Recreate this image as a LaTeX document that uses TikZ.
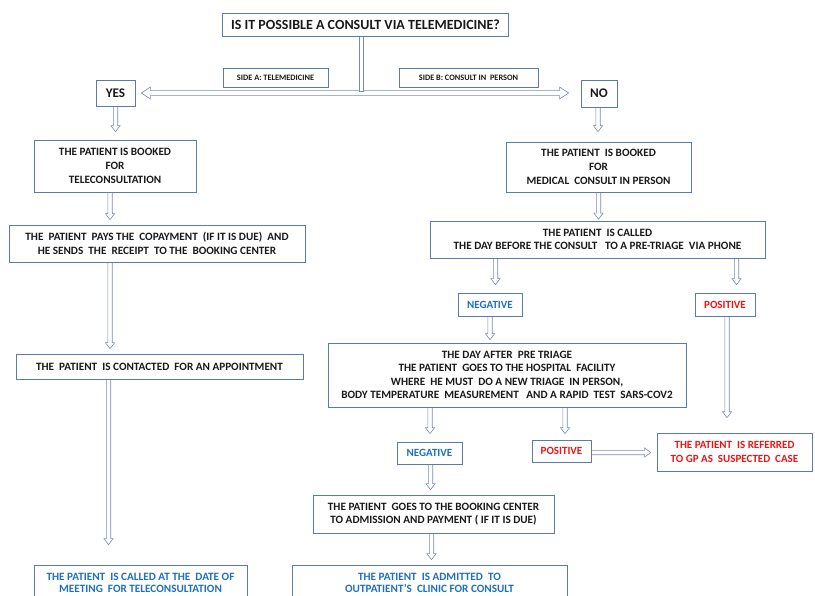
\documentclass[tikz,border=0pt]{standalone}
\usepackage{fontspec}
\setmainfont{Carlito}
\usetikzlibrary{calc}
\pgfdeclarelayer{bg}
\pgfsetlayers{bg,main}
\definecolor{boxC}{RGB}{92,122,170}
\definecolor{arrC}{RGB}{122,140,178}
\definecolor{txtC}{RGB}{25,25,25}
\definecolor{bluT}{RGB}{30,112,192}
\definecolor{redT}{RGB}{238,20,20}
\tikzset{
  box/.style={draw=boxC, line width=0.7pt, fill=white, inner sep=0pt, align=center,
    text=txtC, font=\bfseries\fontsize{11.2}{14}\selectfont},
  wh/.style={minimum width=#1},
  ht/.style={minimum height=#1},
  lbl/.style={font=\bfseries\fontsize{11}{12}\selectfont},
  gap/.store in=\agap, gap=5pt,
  arr/.style={draw=arrC, fill=white, line width=0.6pt, line join=miter},
  dn/.style={arr, to path={let \p1=(\tikztostart), \p2=(\tikztotarget) in
    (\x1-2.2pt,\y1) -- (\x1-2.2pt,\y2+\agap+6pt) -- (\x1-4.6pt,\y2+\agap+6pt) -- (\x1,\y2+\agap)
    -- (\x1+4.6pt,\y2+\agap+6pt) -- (\x1+2.2pt,\y2+\agap+6pt) -- (\x1+2.2pt,\y1)}},
  rt/.style={arr, to path={let \p1=(\tikztostart), \p2=(\tikztotarget) in
    (\x1,\y1+2.2pt) -- (\x2-\agap-6pt,\y1+2.2pt) -- (\x2-\agap-6pt,\y1+4.6pt) -- (\x2-\agap,\y1)
    -- (\x2-\agap-6pt,\y1-4.6pt) -- (\x2-\agap-6pt,\y1-2.2pt) -- (\x1,\y1-2.2pt)}},
  lr/.style={arr, to path={let \p1=(\tikztostart), \p2=(\tikztotarget) in
    (\x1,\y1) -- (\x1+9pt,\y1+6pt) -- (\x1+9pt,\y1+2.6pt) -- (\x2-9pt,\y1+2.6pt) -- (\x2-9pt,\y1+6pt)
    -- (\x2,\y1) -- (\x2-9pt,\y1-6pt) -- (\x2-9pt,\y1-2.6pt) -- (\x1+9pt,\y1-2.6pt) -- (\x1+9pt,\y1-6pt) -- cycle}},
  stem/.style={arr, to path={let \p1=(\tikztostart), \p2=(\tikztotarget) in
    (\x1-2.2pt,\y1) -- (\x1-2.2pt,\y2) -- (\x1+2.2pt,\y2) -- (\x1+2.2pt,\y1)}},
}
\begin{document}
\begin{tikzpicture}[x=1pt,y=-1pt]
\path[use as bounding box] (0,0) rectangle (815,596);
\clip (0,0) rectangle (815,596);
\begin{pgfonlayer}{bg}
\fill[white] (0,0) rectangle (815,596);
\end{pgfonlayer}

% top
\node[box, wh=286, ht=23, font=\bfseries\fontsize{14}{15}\selectfont] (q) at (365.5,24.5) {IS IT POSSIBLE A CONSULT VIA TELEMEDICINE?};
\node[box, wh=105, ht=19, font=\bfseries\fontsize{8.3}{9}\selectfont] (sa) at (275.5,77.5) {SIDE A: TELEMEDICINE};
\node[box, wh=139, ht=19, font=\bfseries\fontsize{8.3}{9}\selectfont] (sb) at (468.5,77.5) {SIDE B: CONSULT IN\ \ PERSON};
\node[box, wh=39, ht=26, font=\bfseries\fontsize{13.2}{14}\selectfont] (yes) at (115.5,93) {YES};
\node[box, wh=36, ht=27, font=\bfseries\fontsize{13.2}{14}\selectfont] (no) at (599,93.5) {NO};
\coordinate (hj) at (361,91.4);

% side A
\node[box, wh=162, ht=52] (bt) at (115,166) {THE PATIENT IS BOOKED\\FOR\\TELECONSULTATION};
\node[box, wh=296, ht=37, font=\bfseries\fontsize{11.2}{13.5}\selectfont] (pay) at (157,243.5) {THE\ \ PATIENT\ \ PAYS THE\ \ COPAYMENT\ \ (IF IT IS DUE)\ \ AND\\HE SENDS\ \ THE\ \ RECEIPT\ \ TO THE\ \ BOOKING CENTER};
\node[box, wh=287, ht=25] (con) at (159.5,366.5) {THE\ \ PATIENT\ \ IS CONTACTED\ \ FOR AN APPOINTMENT};
\node[box, wh=213, ht=36, text=bluT, font=\bfseries\fontsize{11.2}{12.5}\selectfont] (cal) at (140.5,583) {THE PATIENT\ \ IS CALLED AT THE\ \ DATE OF\\MEETING\ \ FOR TELECONSULTATION};

% side B
\node[box, wh=185, ht=50] (bp) at (598.5,167) {THE PATIENT\ \ IS BOOKED\\FOR\\MEDICAL\ \ CONSULT IN PERSON};
\node[box, wh=335, ht=37, font=\bfseries\fontsize{11.2}{13.5}\selectfont] (called) at (597.5,239.5) {THE PATIENT\ \ IS CALLED\\THE DAY BEFORE THE CONSULT\ \ \ TO A PRE-TRIAGE\ \ VIA PHONE};
\node[box, lbl, wh=64, ht=23, text=bluT] (neg1) at (490,304.5) {NEGATIVE};
\node[box, lbl, wh=60, ht=23, text=redT] (pos1) at (725,304.5) {POSITIVE};
\node[box, wh=358, ht=64, font=\bfseries\fontsize{11.2}{13.5}\selectfont] (big) at (507,375) {THE DAY AFTER\ \ PRE TRIAGE\\THE PATIENT\ \ GOES TO THE HOSPITAL\ \ FACILITY\\WHERE\ \ HE MUST\ \ DO A NEW TRIAGE\ \ IN PERSON,\\BODY TEMPERATURE\ \ MEASUREMENT\ \ \ AND A RAPID\ \ TEST\ \ SARS-COV2};
\node[box, lbl, wh=65, ht=22, text=bluT] (neg2) at (429.5,453) {NEGATIVE};
\node[box, lbl, wh=59, ht=22, text=redT] (pos2) at (561.5,451) {POSITIVE};
\node[box, wh=155, ht=38, text=redT, font=\bfseries\fontsize{11}{14}\selectfont] (red) at (734.5,452) {THE PATIENT\ \ IS REFERRED\\TO GP AS\ \ SUSPECTED\ \ CASE};
\node[box, wh=241, ht=38, font=\bfseries\fontsize{11.2}{13.5}\selectfont] (bk) at (433.5,514) {THE PATIENT\ \ GOES TO THE BOOKING CENTER\\TO ADMISSION AND PAYMENT ( IF IT IS DUE)};
\node[box, wh=275, ht=36, text=bluT, font=\bfseries\fontsize{11.2}{12.5}\selectfont] (adm) at (429.5,583) {THE PATIENT\ \ IS ADMITTED\ \ TO\\OUTPATIENT'S\ \ CLINIC FOR CONSULT};

\begin{pgfonlayer}{bg}
\filldraw[lr] ([xshift=6pt]yes.east) to ([xshift=-12pt]no.west);
\filldraw[stem] ([xshift=-4.5pt]q.south) to (hj);
\filldraw[dn, gap=8pt] (yes.south) to (bt.north);
\filldraw[dn, gap=5pt] ([xshift=-5pt]bt.south) to (pay.north);
\filldraw[dn, gap=5pt] ([xshift=-47pt]pay.south) to (con.north);
\filldraw[dn, gap=20pt] ([xshift=-51pt]con.south) to (cal.north);
\filldraw[dn, gap=10pt] ([xshift=-1pt]no.south) to (bp.north);
\filldraw[dn, gap=1.5pt] (bp.south) to (called.north);
\filldraw[dn, gap=8pt] ([xshift=-102pt]called.south) to (neg1.north);
\filldraw[dn, gap=8pt] ([xshift=139pt]called.south) to (pos1.north);
\filldraw[dn, gap=3pt] (neg1.south) to (big.north);
\filldraw[dn, gap=15pt] ([xshift=2pt]pos1.south) to (red.north);
\filldraw[dn, gap=8pt] ([xshift=-77pt]big.south) to (neg2.north);
\filldraw[dn, gap=6pt] ([xshift=58pt]big.south) to (pos2.north);
\filldraw[rt, gap=6pt] ([yshift=-1.5pt]pos2.east) to (red.west);
\filldraw[dn, gap=5pt] ([xshift=1pt]neg2.south) to (bk.north);
\filldraw[dn, gap=5pt] ([xshift=-2pt]bk.south) to (adm.north);
\end{pgfonlayer}
\end{tikzpicture}
\end{document}
